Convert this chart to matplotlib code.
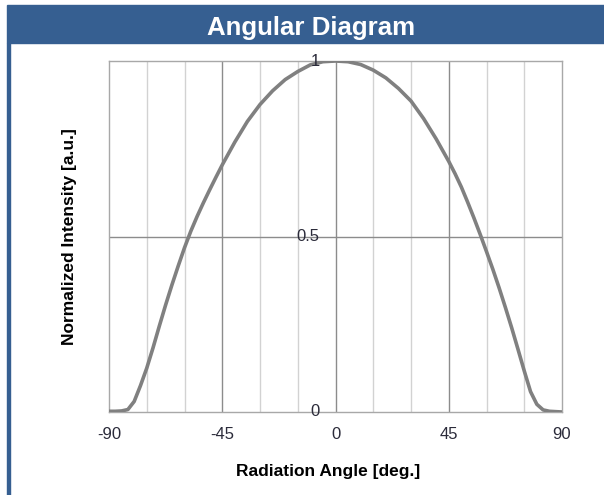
import numpy as np
import matplotlib.pyplot as plt
from matplotlib.patches import Rectangle

# valores
angles = [-90, -87.5, -85, -82.5, -80, -77.5, -75, -72.5, -70, -67.5, -65, -62.5,
          -60, -57.5, -55, -52.5, -50, -47.5, -45, -40, -35, -30, -25, -20,
          -15, -10, -5, 0, 5, 10, 15, 20, 25, 30, 35, 40, 45, 47.5, 50, 52.5,
          55, 57.5, 60, 62.5, 65, 67.5, 70, 72.5, 75, 77.5, 80, 82.5, 85, 87.5, 90]
intensity = [0.002, 0.002, 0.003, 0.007, 0.03, 0.075, 0.125, 0.183, 0.245, 0.305,
             0.362, 0.416, 0.468, 0.515, 0.557, 0.596, 0.633, 0.669, 0.704, 0.769,
             0.828, 0.876, 0.915, 0.947, 0.97, 0.989, 0.998, 1.0, 0.998, 0.99,
             0.974, 0.952, 0.922, 0.886, 0.836, 0.778, 0.714, 0.679, 0.641, 0.598,
             0.553, 0.506, 0.457, 0.407, 0.354, 0.298, 0.24, 0.179, 0.117, 0.058,
             0.022, 0.006, 0.002, 0.001, 0.0]
xticks = [-90, -45, 0, 45, 90]
yticks = [0, 0.5, 1]
ytick_labels = ['0', '0.5', '1']

blue = '#365f91'
text_col = '#2b2b3a'

fig = plt.figure(figsize=(6.04, 4.95), dpi=100)
W, H = 604, 495

# barra del titulo y borde izquierdo
fig.patches.append(Rectangle((7 / W, 1 - 43 / H), 597 / W, 38 / H,
                             transform=fig.transFigure, color=blue, zorder=0))
fig.patches.append(Rectangle((7.5 / W, 0), 3 / W, 1 - 43 / H,
                             transform=fig.transFigure, color=blue, zorder=0))
fig.text(311 / W, 1 - 35 / H, 'Angular Diagram', color='white', fontsize=18.6,
         fontweight='bold', family='Liberation Sans', ha='center', va='baseline')

ax = fig.add_axes([109 / W, 1 - 412 / H, 453 / W, 351 / H])
ax.set_xlim(-90, 90)
ax.set_ylim(0, 1)

# rejilla vertical cada 15 grados
for g in range(-75, 90, 15):
    c = '#8c8c8c' if g % 45 == 0 else '#d2d2d2'
    ax.axvline(g, color=c, lw=1, zorder=1)
ax.axhline(0.5, color='#8c8c8c', lw=1, zorder=1)

ax.plot(angles, intensity, color='#808080', lw=2.6, zorder=3,
        solid_capstyle='round', solid_joinstyle='round')

for s in ax.spines.values():
    s.set_color('#a8a8a8')
    s.set_linewidth(1)

ax.set_xticks(xticks)
ax.set_xticklabels([str(v) for v in xticks], family='Liberation Sans',
                   fontsize=12, color=text_col)
ax.tick_params(axis='x', length=0, pad=11)
ax.set_yticks([])
for v, lab in zip(yticks, ytick_labels):
    ax.text(-6.3, v, lab, ha='right', va='center', fontsize=12,
            family='Liberation Sans', color=text_col, zorder=4)

ax.set_xlabel('Radiation Angle [deg.]', fontsize=12.5, fontweight='bold',
              family='Liberation Sans')
ax.xaxis.set_label_coords(0.483, -0.148)
ax.set_ylabel('Normalized Intensity [a.u.]', fontsize=12.5, fontweight='bold',
              family='Liberation Sans', labelpad=23)

plt.savefig('out.png', dpi=100)
